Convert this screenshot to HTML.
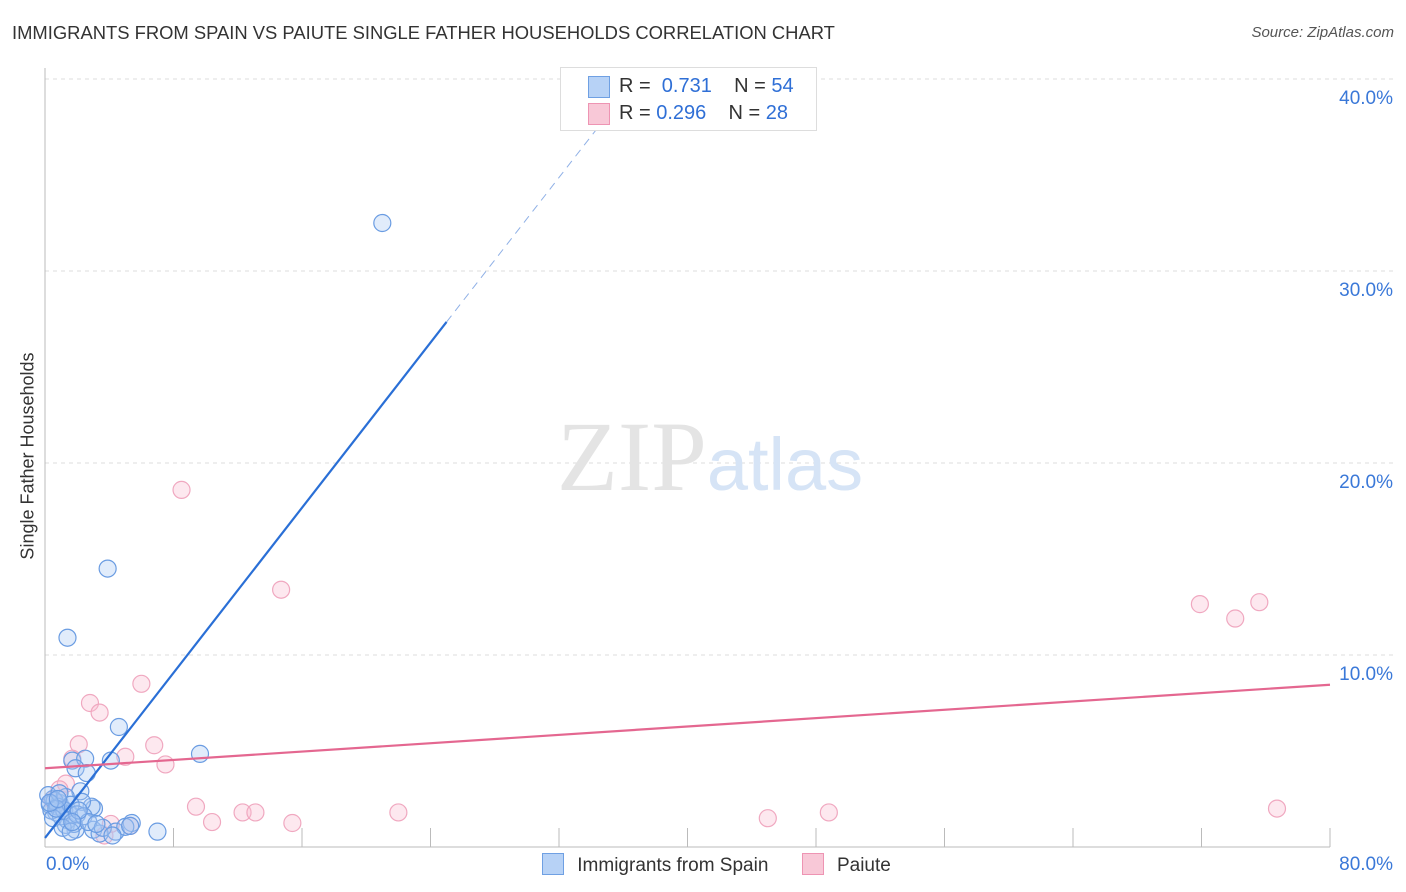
<!DOCTYPE html>
<html><head><meta charset="utf-8">
<style>
body{margin:0;background:#fff;font-family:"Liberation Sans",sans-serif;}
#wrap{position:relative;width:1406px;height:892px;overflow:hidden;}
.t{position:absolute;white-space:nowrap;}
</style></head>
<body>
<div id="wrap">
<div class="t" style="left:12px;top:22px;font-size:18.4px;color:#333;">IMMIGRANTS FROM SPAIN VS PAIUTE SINGLE FATHER HOUSEHOLDS CORRELATION CHART</div>
<div class="t" style="right:12px;top:24px;font-size:15px;color:#555;font-style:italic;">Source: ZipAtlas.com</div>
<div class="t" style="left:28px;top:456px;font-size:18px;color:#333;transform:translate(-50%,-50%) rotate(-90deg);">Single Father Households</div>
<svg id="plot" width="1406" height="892" style="position:absolute;left:0;top:0"></svg>
<div style="position:absolute;left:560px;top:67px;width:255px;height:62px;border:1px solid #ddd;background:#fff;font-size:20px;">
 <div style="position:absolute;left:27px;top:8px;width:20px;height:20px;background:#b7d2f6;border:1px solid #6fa0e3;"></div>
 <div class="t" style="left:58px;top:7px;color:#333">R = &nbsp;<span style="color:#2f6fd6">0.731</span>&nbsp;&nbsp;&nbsp; N = <span style="color:#2f6fd6">54</span></div>
 <div style="position:absolute;left:27px;top:35px;width:20px;height:20px;background:#f8c8d7;border:1px solid #ee94b3;"></div>
 <div class="t" style="left:58px;top:34px;color:#333">R = <span style="color:#2f6fd6">0.296</span>&nbsp;&nbsp;&nbsp; N = <span style="color:#2f6fd6">28</span></div>
</div>
<div style="position:absolute;left:542px;top:853px;font-size:19px;color:#333;">
 <span style="display:inline-block;width:20px;height:20px;background:#b7d2f6;border:1px solid #6fa0e3;vertical-align:-4px"></span>
 <span style="margin-left:8px">Immigrants from Spain</span>
 <span style="display:inline-block;width:20px;height:20px;background:#f8c8d7;border:1px solid #ee94b3;vertical-align:-4px;margin-left:28px"></span>
 <span style="margin-left:8px">Paiute</span>
</div>
</div>
<script>
const yTicks=[10,20,30,40];
const yTickLabels=["10.0%","20.0%","30.0%","40.0%"];
const xTickLabels=["0.0%","80.0%"];
const spainX=[21.0,3.9,1.4,4.6,9.65,4.1,1.7,2.5,1.9,2.6,2.2,7.0,5.4,4.4,3.0,1.9,5.0,1.3,3.05,2.9,2.3,0.3,0.5,0.7,0.9,1.1,1.3,1.5,0.4,0.6,0.8,1.0,1.2,1.6,0.2,0.5,0.9,1.4,1.8,2.0,0.7,1.1,2.4,2.7,3.4,3.6,4.2,5.3,1.6,2.1,0.3,0.8,1.7,3.2];
const spainY=[32.5,14.5,10.9,6.25,4.85,4.5,4.5,4.6,4.1,3.85,2.9,0.8,1.25,0.8,0.9,0.9,1.05,1.15,2.0,2.1,2.35,2.2,2.5,1.8,2.3,2.0,2.6,1.7,1.9,2.4,2.1,1.6,1.9,2.2,2.7,1.5,2.8,1.4,1.2,1.7,2.0,1.0,1.6,1.3,0.7,1.0,0.6,1.1,0.8,1.9,2.3,2.5,1.3,1.2];
const paiuteX=[8.5,14.7,6.0,2.8,3.4,6.8,2.1,5.0,7.5,1.7,1.3,0.9,0.45,9.4,10.4,12.3,13.1,15.4,22.0,45.0,48.8,71.9,74.1,75.6,76.7,4.1,5.3,3.7];
const paiuteY=[18.6,13.4,8.5,7.5,7.0,5.3,5.35,4.7,4.3,4.6,3.3,3.0,2.45,2.1,1.3,1.8,1.8,1.25,1.8,1.5,1.8,12.65,11.9,12.75,2.0,1.2,1.1,0.6];
const spainLine=[0.47,1.075];
const paiuteLine=[4.1,0.0544];
const X0=45,X1=1330,Y0=847,PXY=19.2;
const sx=v=>X0+(X1-X0)*v/80, sy=v=>Y0-v*PXY;
const svg=document.getElementById('plot');const NS='http://www.w3.org/2000/svg';
function mk(tag,attrs){const e=document.createElementNS(NS,tag);for(const k in attrs)e.setAttribute(k,attrs[k]);svg.appendChild(e);return e;}
yTicks.forEach((t,i)=>{
 const g=mk('line',{x1:X0,x2:1395,y1:sy(t),y2:sy(t),stroke:'#ddd','stroke-dasharray':'4,4'});
 
 
 const tx=mk('text',{x:1393,y:sy(t)+25,'text-anchor':'end','font-size':19,fill:'#3a78d8','font-family':'Liberation Sans, sans-serif'});
 tx.textContent=yTickLabels[i];
 
 
});
const ax=mk('line',{x1:X0,x2:X0,y1:68,y2:Y0,stroke:'#bbb'});


const bx=mk('line',{x1:X0,x2:X1,y1:Y0,y2:Y0,stroke:'#bbb'});


for(let i=1;i<=10;i++){
 const tk=mk('line',{x1:sx(i*8),x2:sx(i*8),y1:828,y2:Y0,stroke:'#bbb'});
 
 
}
[[X0+1,'start',0],[1393,'end',1]].forEach(([x,a,i])=>{
 const tx=mk('text',{x:x,y:870,'text-anchor':a,'font-size':19,fill:'#3a78d8','font-family':'Liberation Sans, sans-serif'});
 tx.textContent=xTickLabels[i];
 
 
});
const wm=mk('text',{x:720,y:490,'text-anchor':'middle','font-size':100,'font-family':'Liberation Serif, serif',fill:'#e4e4e4'});
wm.innerHTML='ZIP<tspan fill="#d6e4f6" font-family="Liberation Sans, sans-serif" font-size="74">atlas</tspan>';


wm.setAttribute('x','710');
paiuteX.forEach((x,i)=>{
 const c=mk('circle',{cx:sx(x),cy:sy(paiuteY[i]),r:8.5,fill:'rgba(248,190,208,0.35)',stroke:'#f0a8c0','stroke-width':1.2});
 
 
});
spainX.forEach((x,i)=>{
 const c=mk('circle',{cx:sx(x),cy:sy(spainY[i]),r:8.5,fill:'rgba(170,200,244,0.35)',stroke:'#6a9ce2','stroke-width':1.2});
 
 
});
const f=(l,x)=>l[0]+l[1]*x;
const xs=25, xe=(40.3-spainLine[0])/spainLine[1];
const l1=mk('line',{x1:sx(0),y1:sy(f(spainLine,0)),x2:sx(xs),y2:sy(f(spainLine,xs)),stroke:'#2a6fd6','stroke-width':2.2});


const l2=mk('line',{x1:sx(xs),y1:sy(f(spainLine,xs)),x2:sx(xe),y2:sy(f(spainLine,xe)),stroke:'#8fb0e6','stroke-width':1,'stroke-dasharray':'8,6'});


const l3=mk('line',{x1:sx(0),y1:sy(f(paiuteLine,0)),x2:sx(80),y2:sy(f(paiuteLine,80)),stroke:'#e46790','stroke-width':2.2});


</script>
</body></html>
